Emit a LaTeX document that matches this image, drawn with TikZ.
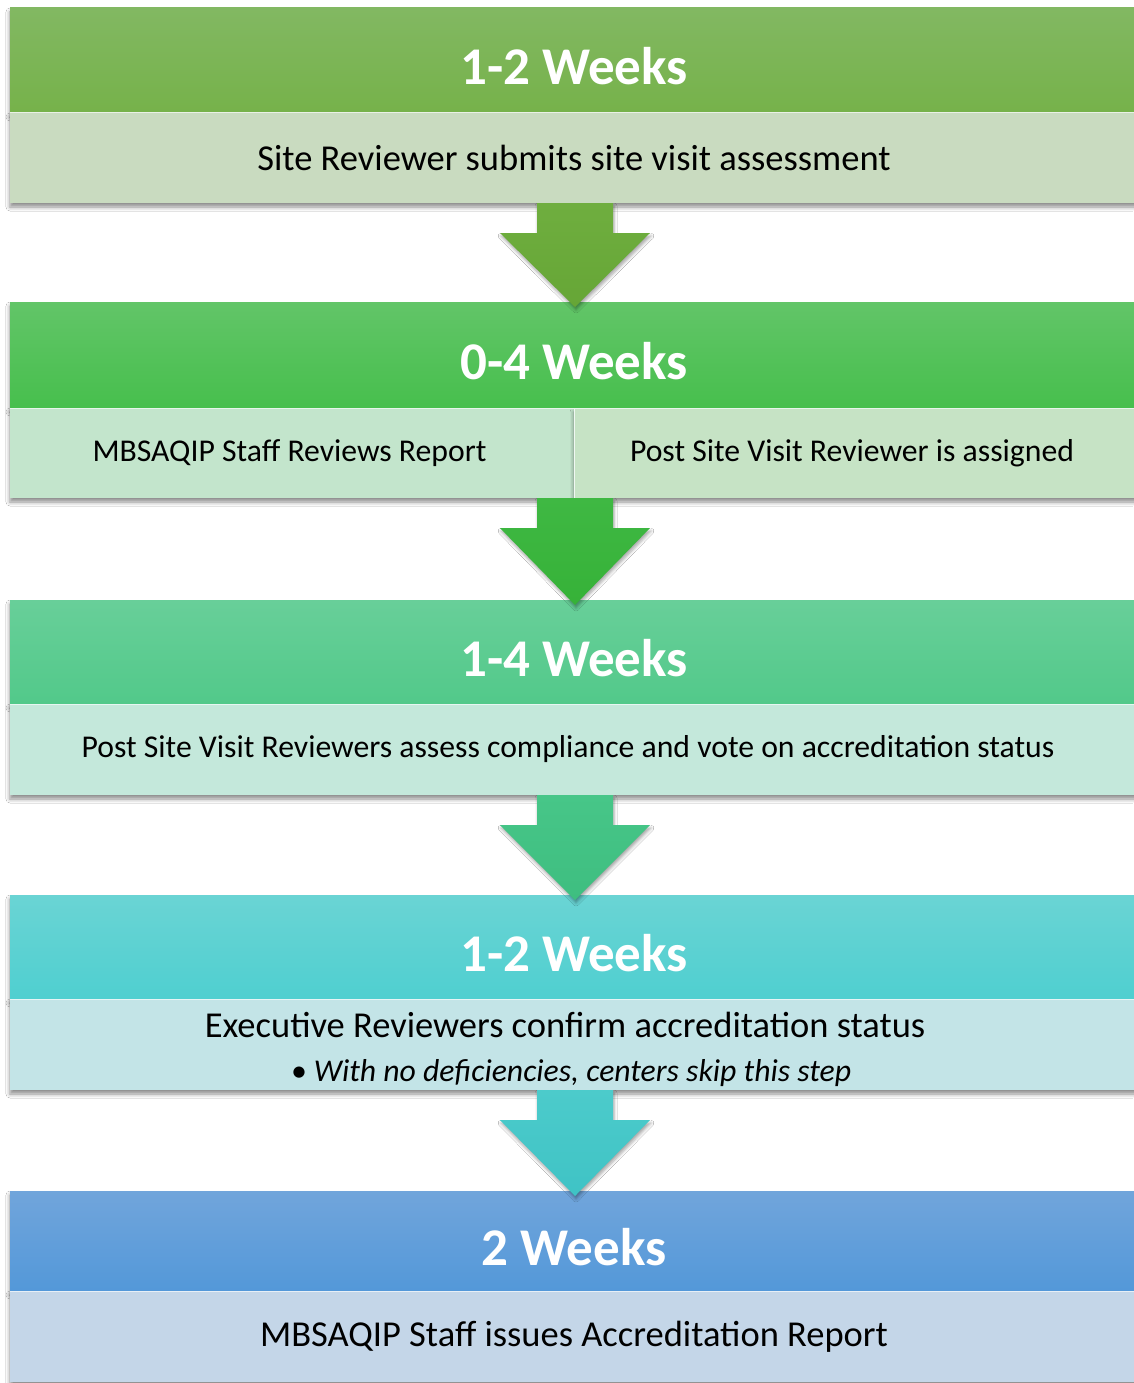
\documentclass[tikz,border=0pt]{standalone}
\usepackage{fontspec}
\setmainfont{Carlito}
\usetikzlibrary{calc,shadows.blur}
\definecolor{h1t}{HTML}{82B862}\definecolor{h1b}{HTML}{76B24A}
\definecolor{h2t}{HTML}{62C568}\definecolor{h2b}{HTML}{47BF4D}
\definecolor{h3t}{HTML}{68CF99}\definecolor{h3b}{HTML}{52C98A}
\definecolor{h4t}{HTML}{6AD4D4}\definecolor{h4b}{HTML}{4FCFD0}
\definecolor{h5t}{HTML}{71A5DB}\definecolor{h5b}{HTML}{5398D9}
\definecolor{bd1}{HTML}{C9DBC0}
\definecolor{bd2l}{HTML}{C3E5CC}\definecolor{bd2r}{HTML}{C6E3C5}
\definecolor{bd3}{HTML}{C4E8DB}
\definecolor{bd4}{HTML}{C3E4E7}
\definecolor{bd5}{HTML}{C4D6E8}
\definecolor{a1t}{HTML}{6FAE3F}\definecolor{a1b}{HTML}{66A636}
\definecolor{a2t}{HTML}{3FB843}\definecolor{a2b}{HTML}{36B238}
\definecolor{a3t}{HTML}{47C688}\definecolor{a3b}{HTML}{3EBE80}
\definecolor{a4t}{HTML}{4CCBCB}\definecolor{a4b}{HTML}{3FC3C5}
\newcommand\hdrfont{\fontsize{53}{60}\selectfont\bfseries}
\newcommand\bodyfont{\fontsize{36.5}{42}\selectfont}
\newcommand\smallbody{\fontsize{31.7}{36}\selectfont}
\tikzset{
  boxshadow/.style={blur shadow={shadow xshift=0pt,shadow yshift=-4pt,shadow blur radius=4pt,shadow opacity=45}},
  hdrbox/.style={rectangle,inner sep=0pt,outer sep=0pt,minimum width=1128pt,minimum height=105pt,text=white,font=\hdrfont,text height=49pt,text depth=0pt,boxshadow},
  bodybox/.style={rectangle,inner sep=0pt,outer sep=0pt,minimum width=1128pt,minimum height=90pt,text=black,font=\bodyfont,boxshadow},
  halfbox/.style={rectangle,inner sep=0pt,outer sep=0pt,minimum height=90pt,text=black,font=\smallbody},
  txt/.style={inner sep=0pt,outer sep=0pt,text=black},
  sepline/.style={draw=white!75!bd2l,line width=1pt},
  toplinebody/.style={draw=white!60!#1,line width=1pt}
}
% #1 source node (bottom), #2 target header node, #3/#4 colours
\newcommand\blockarrow[4]{%
  \path let \p1=(#1.south), \p2=(#2.north) in
    [top color=#3,bottom color=#4,blur shadow={shadow xshift=1pt,shadow yshift=-3pt,shadow blur radius=3pt,shadow opacity=35}]
    (\x2-37pt,\y1) -- (\x2+39pt,\y1) -- (\x2+39pt,\y1-30pt) -- (\x2+76pt,\y1-30pt)
    -- (\x2+1pt,\y2-5pt) -- (\x2-74pt,\y1-30pt) -- (\x2-37pt,\y1-30pt) -- cycle;}
\begin{document}
\begin{tikzpicture}[x=1pt,y=1pt]
\useasboundingbox[fill=white] (0,0) rectangle (1133,-1383);
% box 1
\node[hdrbox,top color=h1t,bottom color=h1b] (h1) at (574,-60.5) {1-2 Weeks};
\node[bodybox,fill=bd1] (b1) at (574,-158) {Site Reviewer submits site visit assessment};
\draw[toplinebody=bd1] (b1.north west) -- (b1.north east);
% box 2
\node[hdrbox,top color=h2t,bottom color=h2b,minimum height=106pt] (h2) at (574,-355) {0-4 Weeks};
\node[halfbox,fill=bd2l,minimum width=564pt,boxshadow] (b2l) at (292,-453) {};
\node[halfbox,fill=bd2r,minimum width=564pt,boxshadow] (b2r) at (856,-453) {};
\node[txt,font=\smallbody] (t2l) at (289.5,-453) {MBSAQIP Staff Reviews Report};
\node[txt,font=\smallbody] (t2r) at (852,-453) {Post Site Visit Reviewer is assigned};
\draw[sepline] (b2l.north east) -- (b2l.south east);
\draw[toplinebody=bd2l] (b2l.north west) -- (b2r.north east);
% box 3
\node[hdrbox,top color=h3t,bottom color=h3b,minimum height=104pt] (h3) at (574,-652) {1-4 Weeks};
\node[bodybox,fill=bd3,minimum height=91pt] (b3) at (574,-749.5) {};
\draw[toplinebody=bd3] (b3.north west) -- (b3.north east);
\node[txt,font=\smallbody] (t3) at (568,-749.5) {Post Site Visit Reviewers assess compliance and vote on accreditation status};
% box 4
\node[hdrbox,top color=h4t,bottom color=h4b,minimum height=104pt] (h4) at (574,-947) {1-2 Weeks};
\node[bodybox,fill=bd4,minimum height=91pt] (b4) at (574,-1044.5) {};
\draw[toplinebody=bd4] (b4.north west) -- (b4.north east);
\node[txt,font=\bodyfont,anchor=base] (t4a) at (565,-1037.5) {Executive Reviewers confirm accreditation status};
\node[txt,font=\smallbody\itshape,anchor=base] (t4b) at (571,-1081.5) {\textbullet\ With no deficiencies, centers skip this step};
% box 5
\node[hdrbox,top color=h5t,bottom color=h5b,minimum height=100pt] (h5) at (574,-1241) {2 Weeks};
\node[bodybox,fill=bd5,minimum height=91pt] (b5) at (574,-1336.5) {MBSAQIP Staff issues Accreditation Report};
\draw[toplinebody=bd5] (b5.north west) -- (b5.north east);
% arrows
\blockarrow{b1}{h2}{a1t}{a1b}
\blockarrow{b2l}{h3}{a2t}{a2b}
\blockarrow{b3}{h4}{a3t}{a3b}
\blockarrow{b4}{h5}{a4t}{a4b}
\end{tikzpicture}
\end{document}
